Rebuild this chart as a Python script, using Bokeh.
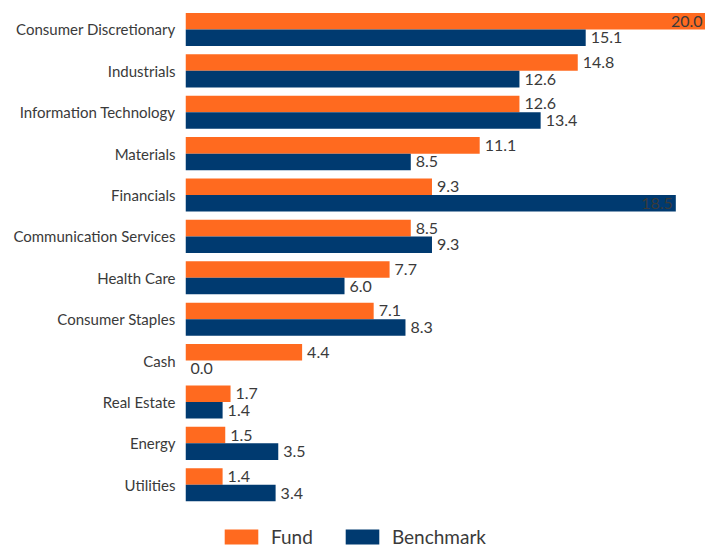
from bokeh.plotting import figure
from bokeh.models import ColumnDataSource, Range1d, Legend, LegendItem, FixedTicker
from bokeh.core.properties import value
from bokeh.embed import file_html
from bokeh.resources import INLINE

categories = ["Consumer Discretionary", "Industrials", "Information Technology",
              "Materials", "Financials", "Communication Services", "Health Care",
              "Consumer Staples", "Cash", "Real Estate", "Energy", "Utilities"]
fund = [20.0, 14.8, 12.6, 11.1, 9.3, 8.5, 7.7, 7.1, 4.4, 1.7, 1.5, 1.4]
benchmark = [15.1, 12.6, 13.4, 8.5, 18.5, 9.3, 6.0, 8.3, 0.0, 1.4, 3.5, 3.4]

FONT = "Lato"
ORANGE = "#FF6A1F"
NAVY = "#003A70"
TXT = "#3A3A3A"
XMAX = 19.62

n = len(categories)
pos = [n - 1 - i for i in range(n)]  # top to bottom

def label_cols(vals):
    x, x_off, align = [], [], []
    for v in vals:
        if v > 18:
            x.append(min(v, XMAX))
            x_off.append(-3)
            align.append("right")
        else:
            x.append(v)
            x_off.append(5)
            align.append("left")
    return x, x_off, align

flx, fx, fa = label_cols(fund)
blx, bx, ba = label_cols(benchmark)
src = ColumnDataSource(dict(
    pos=pos, fy=[y + 0.2 for y in pos], by=[y - 0.2 for y in pos],
    fund=fund, bench=benchmark, flx=flx, blx=blx,
    fund_lbl=[f"{v:.1f}" for v in fund], bench_lbl=[f"{v:.1f}" for v in benchmark],
    fx=fx, fa=fa, bx=bx, ba=ba,
))

p = figure(width=705, height=548, output_backend="svg", toolbar_location=None,
           y_range=Range1d(-1.54, 11.507), x_range=Range1d(0, XMAX),
           min_border_left=185, min_border_right=0, min_border_top=8, min_border_bottom=0)

r1 = p.hbar(y="fy", right="fund", height=0.4, source=src, color=ORANGE, line_color=None)
r2 = p.hbar(y="by", right="bench", height=0.4, source=src, color=NAVY, line_color=None)

p.text(x="flx", y="fy", text="fund_lbl", source=src,
       x_offset="fx", text_align="fa", text_baseline="middle",
       text_font=value(FONT), text_font_size="16px", text_color=TXT)
p.text(x="blx", y="by", text="bench_lbl", source=src,
       x_offset="bx", text_align="ba", text_baseline="middle",
       text_font=value(FONT), text_font_size="16px", text_color=TXT)

p.xaxis.visible = False
p.xgrid.visible = False
p.ygrid.visible = False
p.outline_line_color = None
yax = p.yaxis[0]
yax.ticker = FixedTicker(ticks=pos)
yax.major_label_overrides = {y: c for y, c in zip(pos, categories)}
yax.axis_line_color = None
yax.major_tick_line_color = None
yax.minor_tick_line_color = None
yax.major_tick_in = 0
yax.major_tick_out = 0
yax.major_label_standoff = 10
yax.major_label_text_font = FONT
yax.major_label_text_font_size = "15px"
yax.major_label_text_color = TXT

legend = Legend(items=[LegendItem(label="Fund", renderers=[r1]),
                       LegendItem(label="Benchmark", renderers=[r2])],
                orientation="horizontal", location=(35, 0),
                glyph_width=42, glyph_height=19, label_standoff=9, spacing=28,
                label_text_font=FONT, label_text_font_size="19px", label_text_color=TXT,
                border_line_color=None, background_fill_alpha=0,
                padding=0, margin=0, label_height=19)
p.add_layout(legend, "center")

open("out.html", "w").write(file_html(p, INLINE))
